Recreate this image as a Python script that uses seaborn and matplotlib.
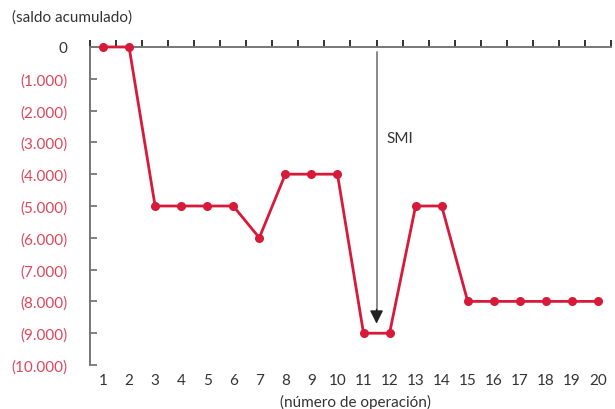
import matplotlib
matplotlib.use("Agg")
import matplotlib.pyplot as plt
from matplotlib.ticker import FixedLocator
import seaborn as sns
import pandas as pd

# Saldo acumulado por número de operación
operaciones = list(range(1, 21))
saldo = [0, 0, -5000, -5000, -5000, -5000, -6000, -4000, -4000, -4000,
         -9000, -9000, -5000, -5000, -8000, -8000, -8000, -8000, -8000, -8000]
y_ticks = [0, -1000, -2000, -3000, -4000, -5000, -6000, -7000, -8000, -9000, -10000]
y_labels = ["0", "(1.000)", "(2.000)", "(3.000)", "(4.000)", "(5.000)",
            "(6.000)", "(7.000)", "(8.000)", "(9.000)", "(10.000)"]

sns.set_theme(style="white")
plt.rcParams["font.family"] = ["Lato", "DejaVu Sans"]

RED = "#d7193a"
LABEL_RED = "#e0455c"
AXIS = "#777777"
TEXT = "#333333"
FS = 11

df = pd.DataFrame({"operacion": operaciones, "saldo": saldo})

fig = plt.figure(figsize=(6.15, 4.10), dpi=100)
ax = fig.add_axes([0.1463, 0.1073, 0.8472, 0.7757])

sns.lineplot(data=df, x="operacion", y="saldo", ax=ax, color=RED, lw=2.0,
             marker="o", markersize=6.5, markeredgewidth=0, clip_on=False,
             zorder=5)

ax.set_xlim(0.5, 20.5)
ax.set_ylim(-10000, 0)

# Axes: line at saldo 0 on top, vertical axis on the left
for side in ["right", "bottom"]:
    ax.spines[side].set_visible(False)
for side in ["top", "left"]:
    ax.spines[side].set_color(AXIS)
    ax.spines[side].set_linewidth(1.4)

ax.set_xticks(operaciones)
ax.set_xticklabels([str(o) for o in operaciones])
ax.xaxis.set_minor_locator(FixedLocator([o - 0.5 for o in operaciones] + [20.5]))
ax.tick_params(axis="x", which="major", bottom=True, top=False, length=0,
               pad=6, labelsize=FS, labelcolor=TEXT)
ax.tick_params(axis="x", which="minor", bottom=False, top=True, direction="out",
               length=5, width=1.3, color="#222222")

ax.set_yticks(y_ticks)
ax.set_yticklabels(y_labels)
ax.tick_params(axis="y", which="major", left=True, direction="in", length=5,
               width=1.3, color=AXIS, pad=16, labelsize=FS)
for lbl, val in zip(ax.get_yticklabels(), y_ticks):
    lbl.set_color(TEXT if val == 0 else LABEL_RED)

ax.set_xlabel("")
ax.set_ylabel("")
ax.grid(False)

# SMI arrow: gray shaft, black head
ax.plot([11.5, 11.5], [-150, -8300], color="#888888", lw=1.4, zorder=3)
ax.annotate("", xy=(11.5, -8700), xytext=(11.5, -8250),
            arrowprops=dict(arrowstyle="-|>", color="#222222", lw=1.0,
                            mutation_scale=20, shrinkA=0, shrinkB=0),
            zorder=4)
ax.text(11.9, -2850, "SMI", fontsize=FS, color=TEXT, ha="left", va="center")

fig.text(12 / 615, 1 - 18 / 410, "(saldo acumulado)", fontsize=FS,
         color=TEXT, ha="left", va="center")
fig.text(355 / 615, 1 - 402 / 410, "(número de operación)", fontsize=FS,
         color=TEXT, ha="center", va="center")

fig.savefig("out.png", dpi=100)
